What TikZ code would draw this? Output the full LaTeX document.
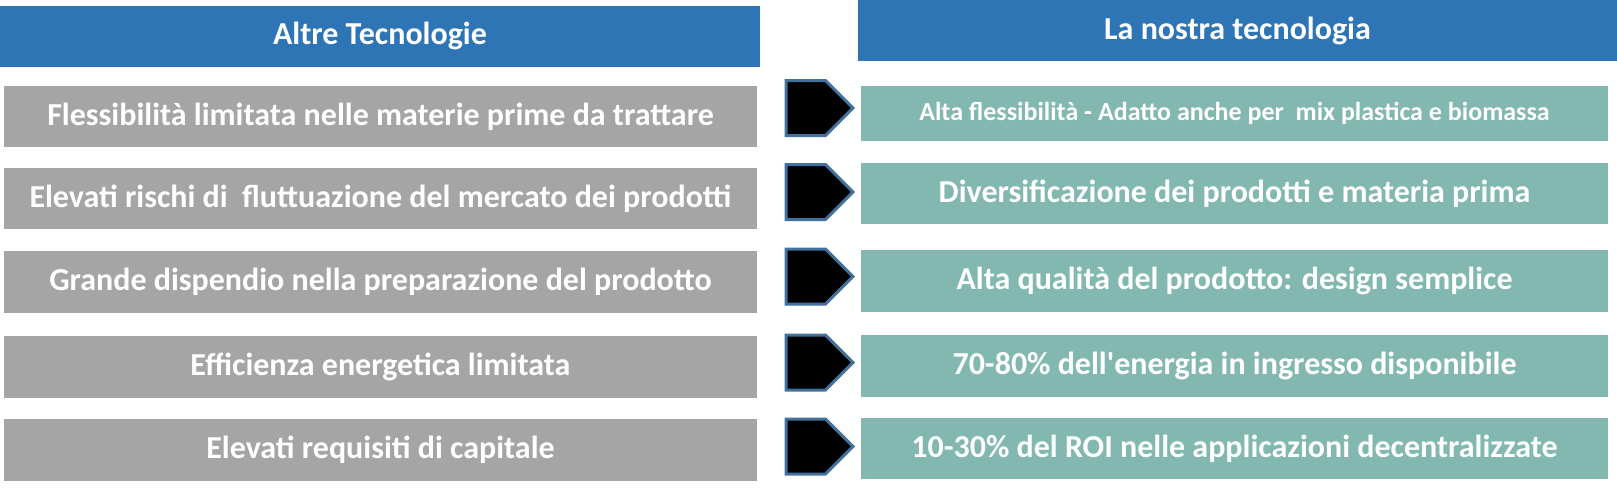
\documentclass[tikz,border=0pt]{standalone}
\usepackage{fontspec}
\setmainfont{Carlito}[Ligatures=TeXOff]
\usepackage{tikz}
\usetikzlibrary{positioning}
\usetikzlibrary{shapes.symbols}
\definecolor{headblue}{HTML}{2E75B6}
\definecolor{oldgray}{HTML}{A5A5A5}
\definecolor{newteal}{HTML}{82B8AF}
\definecolor{pointerblue}{HTML}{41719C}

\begin{document}
\begin{tikzpicture}[
		x=1pt,y=-1pt,
		every node/.append style={
			inner sep=0pt,
			text=white,
			font=\bfseries\fontsize{32}{36}\selectfont,
		},
		header/.style={fill=headblue,minimum height=61pt},
		oldtech/.style={fill=oldgray,minimum width=753pt,minimum height=61pt},
		newtech/.style={fill=newteal,minimum width=747pt,minimum height=61pt},
		pointer/.style={shape=signal,signal to=east,signal pointer angle=90,
			fill=black,draw=pointerblue,line width=3pt,
			minimum width=67pt,minimum height=55pt,anchor=west},
	]
	\useasboundingbox (0,0) rectangle (1617,490);
	% headers
	\node[header,minimum width=760pt] (althead) at (380,36) {Altre Tecnologie};
	\node[header,minimum width=759pt] (ourhead) at (1237.5,30.5) {La nostra tecnologia};
	% left side of the picture
	\node[oldtech] (old1) at (380.5,116.5) {Flessibilità limitata nelle materie prime da trattare};
	\node[oldtech] (old2) at (380.5,198.5) {Elevati rischi di\ \ fluttuazione del mercato dei prodotti};
	\node[oldtech,minimum height=62pt] (old3) at (380.5,282) {Grande dispendio nella preparazione del prodotto};
	\node[oldtech,minimum height=62pt] (old4) at (380.5,367) {Efficienza energetica limitata};
	\node[oldtech,minimum height=62pt] (old5) at (380.5,450) {Elevati requisiti di capitale};
	% arrows in the middle
	\node[pointer] (point1) at (784.5,108) {};
	\node[pointer] (point2) at (784.5,192) {};
	\node[pointer] (point3) at (784.5,276.5) {};
	\node[pointer] (point4) at (784.5,362.5) {};
	\node[pointer] (point5) at (784.5,446.5) {};
	% right side of the picture
	\node[newtech,minimum height=55pt,font=\bfseries\fontsize{26}{30}\selectfont] (new1) at (1234.5,113.5) {Alta flessibilità - Adatto anche per\ \ mix plastica e biomassa};
	\node[newtech] (new2) at (1234.5,193.5) {Diversificazione dei prodotti e materia prima};
	\node[newtech,minimum height=62pt] (new3) at (1234.5,281) {Alta qualità del prodotto: design semplice};
	\node[newtech,minimum height=62pt] (new4) at (1234.5,366) {70-80\% dell'energia in ingresso disponibile};
	\node[newtech] (new5) at (1234.5,448.5) {10-30\% del ROI nelle applicazioni decentralizzate};
\end{tikzpicture}
\end{document}
